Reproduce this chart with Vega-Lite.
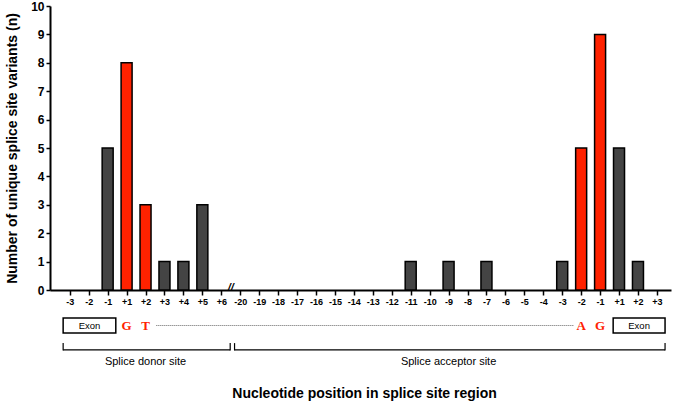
{
  "$schema": "https://vega.github.io/schema/vega-lite/v6.json",
  "autosize": {"type": "none"},
  "padding": {"left": 50, "top": 6, "right": 4, "bottom": 115},
  "width": 621,
  "height": 284,
  "config": {
    "view": {"stroke": null},
    "font": "Liberation Sans",
    "text": {"font": "Liberation Sans"}
  },
  "resolve": {"axis": {"x": "independent", "y": "independent"}},
  "datasets": {
    "bars": [
      {"idx": 0, "pos": "-3", "site": "donor", "n": 0, "kind": "other"},
      {"idx": 1, "pos": "-2", "site": "donor", "n": 0, "kind": "other"},
      {"idx": 2, "pos": "-1", "site": "donor", "n": 5, "kind": "other"},
      {"idx": 3, "pos": "+1", "site": "donor", "n": 8, "kind": "canonical"},
      {"idx": 4, "pos": "+2", "site": "donor", "n": 3, "kind": "canonical"},
      {"idx": 5, "pos": "+3", "site": "donor", "n": 1, "kind": "other"},
      {"idx": 6, "pos": "+4", "site": "donor", "n": 1, "kind": "other"},
      {"idx": 7, "pos": "+5", "site": "donor", "n": 3, "kind": "other"},
      {"idx": 8, "pos": "+6", "site": "donor", "n": 0, "kind": "other"},
      {"idx": 9, "pos": "-20", "site": "acceptor", "n": 0, "kind": "other"},
      {"idx": 10, "pos": "-19", "site": "acceptor", "n": 0, "kind": "other"},
      {"idx": 11, "pos": "-18", "site": "acceptor", "n": 0, "kind": "other"},
      {"idx": 12, "pos": "-17", "site": "acceptor", "n": 0, "kind": "other"},
      {"idx": 13, "pos": "-16", "site": "acceptor", "n": 0, "kind": "other"},
      {"idx": 14, "pos": "-15", "site": "acceptor", "n": 0, "kind": "other"},
      {"idx": 15, "pos": "-14", "site": "acceptor", "n": 0, "kind": "other"},
      {"idx": 16, "pos": "-13", "site": "acceptor", "n": 0, "kind": "other"},
      {"idx": 17, "pos": "-12", "site": "acceptor", "n": 0, "kind": "other"},
      {"idx": 18, "pos": "-11", "site": "acceptor", "n": 1, "kind": "other"},
      {"idx": 19, "pos": "-10", "site": "acceptor", "n": 0, "kind": "other"},
      {"idx": 20, "pos": "-9", "site": "acceptor", "n": 1, "kind": "other"},
      {"idx": 21, "pos": "-8", "site": "acceptor", "n": 0, "kind": "other"},
      {"idx": 22, "pos": "-7", "site": "acceptor", "n": 1, "kind": "other"},
      {"idx": 23, "pos": "-6", "site": "acceptor", "n": 0, "kind": "other"},
      {"idx": 24, "pos": "-5", "site": "acceptor", "n": 0, "kind": "other"},
      {"idx": 25, "pos": "-4", "site": "acceptor", "n": 0, "kind": "other"},
      {"idx": 26, "pos": "-3", "site": "acceptor", "n": 1, "kind": "other"},
      {"idx": 27, "pos": "-2", "site": "acceptor", "n": 5, "kind": "canonical"},
      {"idx": 28, "pos": "-1", "site": "acceptor", "n": 9, "kind": "canonical"},
      {"idx": 29, "pos": "+1", "site": "acceptor", "n": 5, "kind": "other"},
      {"idx": 30, "pos": "+2", "site": "acceptor", "n": 1, "kind": "other"},
      {"idx": 31, "pos": "+3", "site": "acceptor", "n": 0, "kind": "other"}
    ],
    "exons": [
      {"site": "donor", "start": -0.35, "end": 2.43, "mid": 1.04, "label": "Exon"},
      {"site": "acceptor", "start": 28.69, "end": 31.43, "mid": 30.06, "label": "Exon"}
    ],
    "letters": [
      {"idx": 3, "letter": "G"},
      {"idx": 4, "letter": "T"},
      {"idx": 27, "letter": "A"},
      {"idx": 28, "letter": "G"}
    ],
    "intron": [
      {"start": 4.57, "end": 26.6}
    ],
    "brackets": [
      {"site": "donor", "start": -0.35, "end": 8.47, "mid": 4.0, "label": "Splice donor site"},
      {"site": "acceptor", "start": 8.7, "end": 31.43, "mid": 20.0, "label": "Splice acceptor site"}
    ],
    "breaks": [
      {"idx": 8.5, "mark": "//"}
    ]
  },
  "layer": [
    {
      "data": {"name": "bars"},
      "transform": [{"filter": "datum.n > 0"}],
      "mark": {"type": "bar", "width": 11, "stroke": "#000000", "strokeWidth": 1.5},
      "encoding": {
        "x": {
          "field": "idx",
          "type": "quantitative",
          "scale": {"domain": [-0.78, 31.48], "nice": false, "zero": false},
          "axis": {
            "values": [0,1,2,3,4,5,6,7,8,9,10,11,12,13,14,15,16,17,18,19,20,21,22,23,24,25,26,27,28,29,30,31],
            "labelExpr": "['-3','-2','-1','+1','+2','+3','+4','+5','+6','-20','-19','-18','-17','-16','-15','-14','-13','-12','-11','-10','-9','-8','-7','-6','-5','-4','-3','-2','-1','+1','+2','+3'][datum.value]",
            "title": "Nucleotide position in splice site region",
            "titleFont": "Liberation Sans",
            "titleFontSize": 14,
            "titleFontWeight": "bold",
            "titleColor": "#000000",
            "titleBaseline": "middle",
            "titleY": 103,
            "titleX": 314,
            "labelFont": "Liberation Sans",
            "labelFontSize": 9,
            "labelFontWeight": "bold",
            "labelColor": "#000000",
            "labelPadding": 2,
            "labelFlush": false,
            "labelOverlap": false,
            "domainColor": "#000000",
            "domainWidth": 1.8,
            "tickColor": "#000000",
            "tickWidth": 1.5,
            "tickSize": 5,
            "grid": false
          }
        },
        "y": {
          "field": "n",
          "type": "quantitative",
          "scale": {"domain": [0, 10], "nice": false},
          "axis": {
            "values": [0,1,2,3,4,5,6,7,8,9,10],
            "labelOverlap": false,
            "title": "Number of unique splice site variants (n)",
            "titleFont": "Liberation Sans",
            "titleFontSize": 14,
            "titleFontWeight": "bold",
            "titleColor": "#000000",
            "titleBaseline": "middle",
            "titleX": -38,
            "titleY": 142,
            "labelFont": "Liberation Sans",
            "labelFontSize": 12,
            "labelFontWeight": "bold",
            "labelColor": "#000000",
            "labelPadding": 2,
            "domainColor": "#000000",
            "domainWidth": 2,
            "tickColor": "#000000",
            "tickWidth": 1.5,
            "tickSize": 4,
            "grid": false
          }
        },
        "color": {
          "field": "kind",
          "type": "nominal",
          "scale": {"domain": ["other", "canonical"], "range": ["#444444", "#ff2200"]},
          "legend": null
        }
      }
    },
    {
      "data": {"name": "exons"},
      "mark": {"type": "rect", "fill": "#ffffff", "stroke": "#000000", "strokeWidth": 1.5},
      "encoding": {
        "x": {"field": "start", "type": "quantitative", "axis": null},
        "x2": {"field": "end"},
        "y": {"datum": -0.99, "axis": null},
        "y2": {"datum": -1.51}
      }
    },
    {
      "data": {"name": "exons"},
      "mark": {"type": "text", "fontSize": 9.5, "color": "#000000", "baseline": "middle", "align": "center"},
      "encoding": {
        "x": {"field": "mid", "type": "quantitative", "axis": null},
        "y": {"datum": -1.25, "axis": null},
        "text": {"field": "label"}
      }
    },
    {
      "data": {"name": "intron"},
      "mark": {"type": "rule", "color": "#666666", "strokeWidth": 1, "strokeDash": [1, 1]},
      "encoding": {
        "x": {"field": "start", "type": "quantitative", "axis": null},
        "x2": {"field": "end"},
        "y": {"datum": -1.25, "axis": null}
      }
    },
    {
      "data": {"name": "letters"},
      "mark": {"type": "text", "font": "Liberation Serif", "fontWeight": "bold", "fontSize": 13, "color": "#ff2200", "baseline": "middle", "align": "center"},
      "encoding": {
        "x": {"field": "idx", "type": "quantitative", "axis": null},
        "y": {"datum": -1.25, "axis": null},
        "text": {"field": "letter"}
      }
    },
    {
      "data": {"name": "brackets"},
      "mark": {"type": "rule", "color": "#000000", "strokeWidth": 1.2},
      "encoding": {
        "x": {"field": "start", "type": "quantitative", "axis": null},
        "x2": {"field": "end"},
        "y": {"datum": -2.11, "axis": null}
      }
    },
    {
      "data": {"name": "brackets"},
      "mark": {"type": "rule", "color": "#000000", "strokeWidth": 1.2},
      "encoding": {
        "x": {"field": "start", "type": "quantitative", "axis": null},
        "y": {"datum": -1.87, "axis": null},
        "y2": {"datum": -2.13}
      }
    },
    {
      "data": {"name": "brackets"},
      "mark": {"type": "rule", "color": "#000000", "strokeWidth": 1.2},
      "encoding": {
        "x": {"field": "end", "type": "quantitative", "axis": null},
        "y": {"datum": -1.87, "axis": null},
        "y2": {"datum": -2.13}
      }
    },
    {
      "data": {"name": "brackets"},
      "mark": {"type": "text", "fontSize": 11, "color": "#000000", "baseline": "middle", "align": "center"},
      "encoding": {
        "x": {"field": "mid", "type": "quantitative", "axis": null},
        "y": {"datum": -2.54, "axis": null},
        "text": {"field": "label"}
      }
    },
    {
      "data": {"name": "breaks"},
      "mark": {"type": "text", "fontSize": 11, "fontWeight": "bold", "fontStyle": "italic", "color": "#000000", "baseline": "middle", "align": "center", "dy": -2},
      "encoding": {
        "x": {"field": "idx", "type": "quantitative", "axis": null},
        "y": {"datum": 0, "axis": null},
        "text": {"field": "mark"}
      }
    }
  ]
}
